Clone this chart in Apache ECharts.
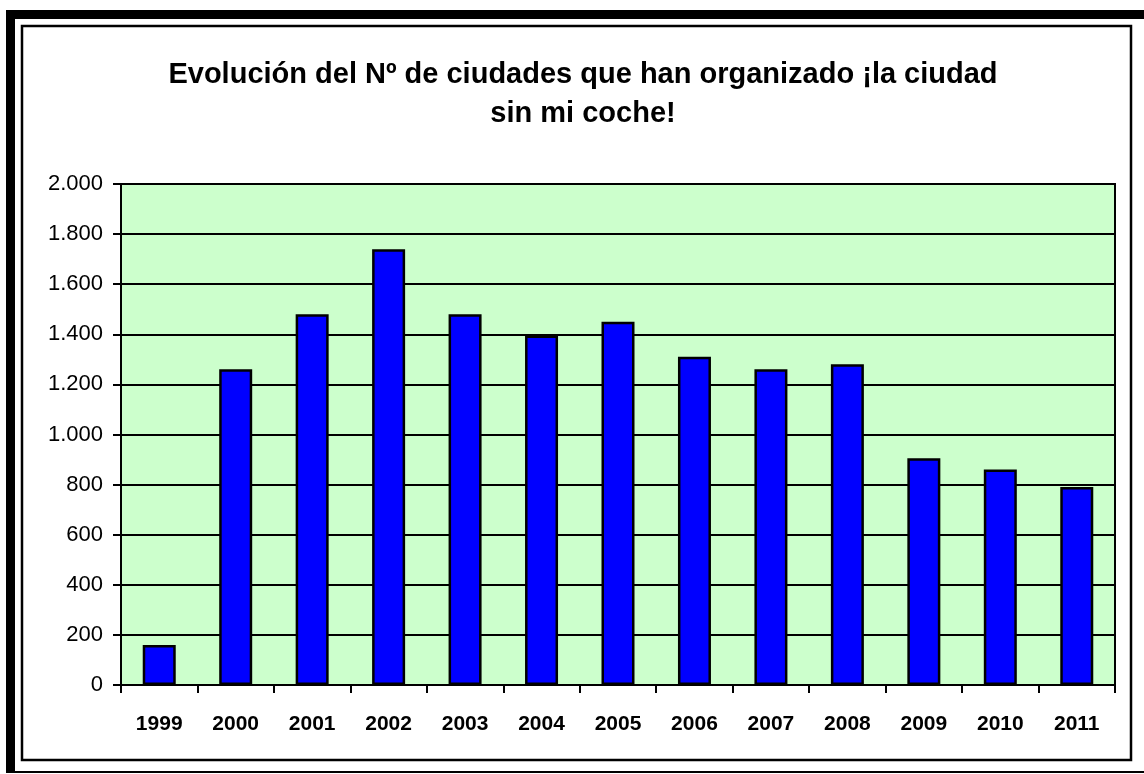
<!DOCTYPE html>
<html>
<head>
<meta charset="utf-8">
<title>Evolución del Nº de ciudades</title>
<script src="https://cdn.jsdelivr.net/npm/echarts@6/dist/echarts.min.js"></script>
<style>
    html, body { margin: 0; padding: 0; background: #fff; }
    #chart { width: 1144px; height: 774px; }
</style>
</head>
<body>
<div id="chart"></div>
<script>
// datos del gráfico
var years = ['1999', '2000', '2001', '2002', '2003', '2004', '2005', '2006', '2007', '2008', '2009', '2010', '2011'];
var ciudades = [160, 1260, 1480, 1740, 1480, 1395, 1450, 1310, 1260, 1280, 905, 860, 790];
var yTicks = [0, 200, 400, 600, 800, 1000, 1200, 1400, 1600, 1800, 2000];

(function (window, echarts) {
    // 2000 -> 2.000
    function formatMiles(value) {
        return String(value).replace(/\B(?=(\d{3})+(?!\d))/g, '.');
    }

    // marcos negros alrededor del gráfico
    function buildFrames() {
        return [
            { type: 'rect', shape: { x: 6, y: 10, width: 1138, height: 9 }, style: { fill: '#000' }, silent: true },
            { type: 'rect', shape: { x: 6, y: 10, width: 9, height: 763 }, style: { fill: '#000' }, silent: true },
            { type: 'rect', shape: { x: 6, y: 771, width: 1138, height: 2 }, style: { fill: '#000' }, silent: true },
            { type: 'rect', shape: { x: 22, y: 26, width: 1109, height: 734 }, style: { fill: 'none', stroke: '#000', lineWidth: 2.5 }, silent: true }
        ];
    }

    function drawChart(dom) {
        var chart = echarts.init(dom);
        chart.setOption({
            backgroundColor: '#fff',
            animation: false,
            graphic: buildFrames(),
            title: {
                text: 'Evolución del Nº de ciudades que han organizado ¡la ciudad\nsin mi coche!',
                left: 578,
                top: 50,
                textAlign: 'center',
                textStyle: {
                    fontFamily: 'Liberation Sans, Arial, sans-serif',
                    fontSize: 29,
                    fontWeight: 'bold',
                    color: '#000',
                    lineHeight: 39
                }
            },
            grid: {
                left: 121,
                right: 29,
                top: 184,
                bottom: 89,
                show: true,
                backgroundColor: '#ccffcc',
                borderColor: '#000',
                borderWidth: 2
            },
            xAxis: {
                type: 'category',
                data: years,
                axisLine: { lineStyle: { color: '#000', width: 2 } },
                axisTick: { show: true, length: 8, lineStyle: { color: '#000', width: 2 } },
                axisLabel: {
                    margin: 29,
                    fontFamily: 'Liberation Sans, Arial, sans-serif',
                    fontSize: 21,
                    fontWeight: 'bold',
                    color: '#000'
                }
            },
            yAxis: {
                type: 'value',
                min: yTicks[0],
                max: yTicks[yTicks.length - 1],
                interval: yTicks[1] - yTicks[0],
                axisLine: { show: true, lineStyle: { color: '#000', width: 2 } },
                axisTick: { show: true, length: 8, lineStyle: { color: '#000', width: 2 } },
                splitLine: { lineStyle: { color: '#000', width: 2 } },
                axisLabel: {
                    margin: 18,
                    fontFamily: 'Liberation Sans, Arial, sans-serif',
                    fontSize: 22,
                    color: '#000',
                    formatter: formatMiles
                }
            },
            series: [{
                type: 'bar',
                data: ciudades,
                barWidth: 33,
                itemStyle: {
                    color: '#0000ff',
                    borderColor: '#000',
                    borderWidth: 2.5
                }
            }]
        });
    }

    drawChart(document.getElementById('chart'));
})(window, echarts);
</script>
</body>
</html>
